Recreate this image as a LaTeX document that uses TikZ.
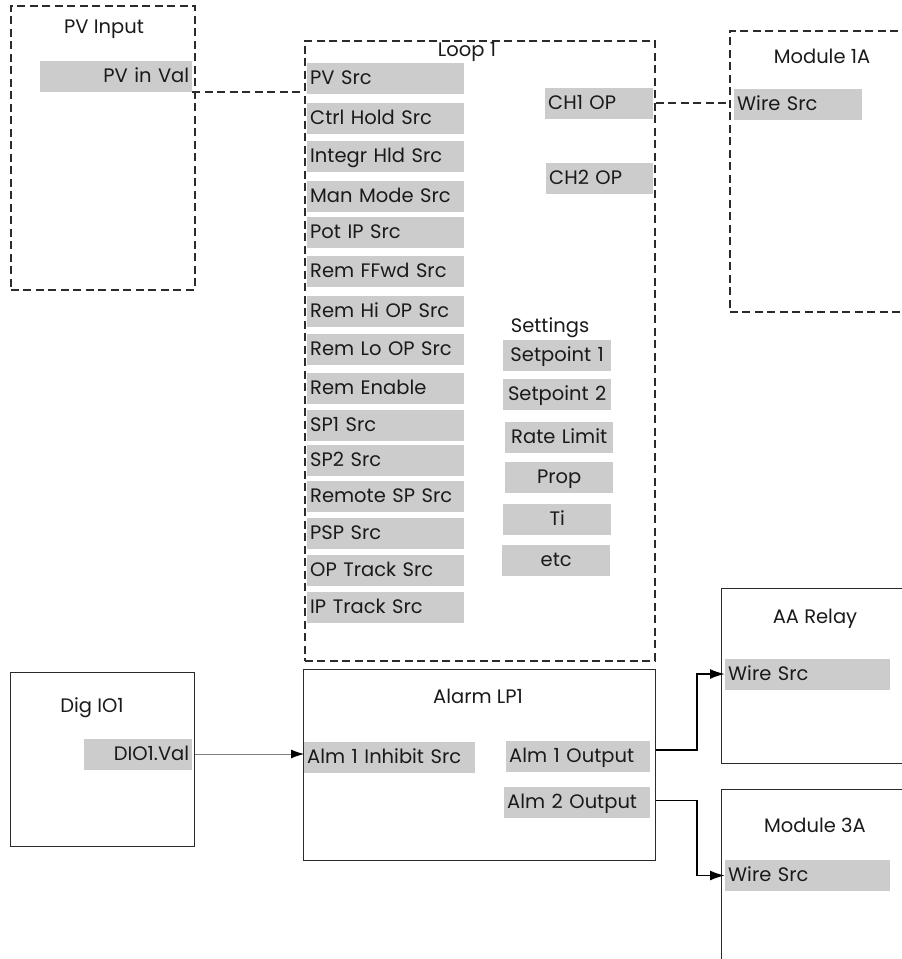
\documentclass[tikz,border=0pt]{standalone}
\usepackage{fontspec}
\setmainfont{Poppins}
\usepackage{xcolor}
\usetikzlibrary{arrows.meta,positioning}
\definecolor{barfill}{HTML}{CCCCCC}
\definecolor{linegray}{HTML}{2B2B2B}
\definecolor{txtgray}{HTML}{1A1A1A}
\newcommand{\lbl}{\fontsize{19.5}{21}\selectfont}

\begin{document}
\begin{tikzpicture}[x=1pt, y=-1pt,
      dbox/.style={draw=linegray, line width=1.5pt, dash pattern=on 8pt off 4.5pt,
                   anchor=north west, inner sep=0pt},
      sbox/.style={draw=linegray, line width=1.1pt, anchor=north west, inner sep=0pt},
      ttl/.style={font=\lbl, text=txtgray, anchor=base, inner sep=0pt},
      field/.style={fill=barfill, text=txtgray, font=\lbl, anchor=west,
                    minimum height=31pt, inner xsep=3pt, inner ysep=0pt,
                    text height=14pt, text depth=2pt, text width=#1, align=left},
      rfield/.style={field=#1, align=right},
      cfield/.style={field=#1, align=center},
      wire/.style={draw=linegray, line width=1.5pt, dash pattern=on 8pt off 4.5pt},
      sigarr/.style={draw=gray, line width=0.9pt, -{Latex[black, length=13pt, width=9pt]}},
      outarr/.style={draw=black, line width=1.8pt, -{Latex[length=15pt, width=10pt]}}
  ]
    \useasboundingbox (0,0) rectangle (902,959);
    \clip (0,0) rectangle (902,959);

    % PV input block
    \node[dbox, minimum width=184pt, minimum height=284pt] (pvin) at (10,5) {};
    \node[ttl] (pvinT) at (104,33) {PV Input};
    \node[rfield=146pt] (pvval) at (40,76.5) {PV in Val};

    % loop block
    \node[dbox, minimum width=350pt, minimum height=620pt] (loop) at (304,40) {};
    \node[ttl] (loopT) at (467,56) {Loop 1};
    \node[field=151pt] (pvsrc)   at (307,78)    {PV Src};
    \node[field=151pt] (ctrlh)   at (307,118)   {Ctrl Hold Src};
    \node[field=151pt] (integr)  at (307,156.5) {Integr Hld Src};
    \node[field=151pt] (manmode) at (307,196)   {Man Mode Src};
    \node[field=151pt] (potip)   at (307,232.5) {Pot IP Src};
    \node[field=151pt] (ffwd)    at (307,271)   {Rem FFwd Src};
    \node[field=151pt] (remhi)   at (307,311)   {Rem Hi OP Src};
    \node[field=151pt] (remlo)   at (307,349)   {Rem Lo OP Src};
    \node[field=151pt] (remen)   at (307,388)   {Rem Enable};
    \node[field=151pt] (sp1)     at (307,425)   {SP1 Src};
    \node[field=151pt] (sp2)     at (307,460)   {SP2 Src};
    \node[field=151pt] (remsp)   at (307,496)   {Remote SP Src};
    \node[field=151pt] (psp)     at (307,533)   {PSP Src};
    \node[field=151pt] (optrk)   at (307,570)   {OP Track Src};
    \node[field=151pt] (iptrk)   at (307,607)   {IP Track Src};
    \node[field=102pt] (ch1) at (545,103) {CH1 OP};
    \node[field=101pt] (ch2) at (546,178) {CH2 OP};
    \node[ttl] (setT) at (550,332) {Settings};
    \node[cfield=102pt] (setp1) at (503,355)   {Setpoint 1};
    \node[cfield=102pt] (setp2) at (503,394)   {Setpoint 2};
    \node[cfield=102pt] (rate)  at (505,437.5) {Rate Limit};
    \node[cfield=102pt] (prop)  at (505,477)   {Prop};
    \node[cfield=102pt] (ti)    at (503,519)   {Ti};
    \node[cfield=102pt] (etc)   at (502,560)   {etc};

    % module 1A
    \node[dbox, minimum width=200pt, minimum height=281pt] (mod1a) at (729,30) {};
    \node[ttl] (mod1aT) at (822,63) {Module 1A};
    \node[field=122pt] (m1wire) at (734,104.5) {Wire Src};

    % digital input
    \node[sbox, minimum width=184pt, minimum height=174pt] (dig) at (10,672) {};
    \node[ttl] (digT) at (92,712) {Dig IO1};
    \node[rfield=102pt] (dioval) at (84,754) {DIO1.Val};

    % alarm block
    \node[sbox, minimum width=352pt, minimum height=191pt] (alarm) at (303,669) {};
    \node[ttl] (alarmT) at (478,703) {Alarm LP1};
    \node[field=165pt] (inhib) at (304,757) {Alm 1 Inhibit Src};
    \node[field=138pt] (alm1) at (506,756)   {Alm 1 Output};
    \node[field=140pt] (alm2) at (504,802.5) {Alm 2 Output};

    % relay and module 3A
    \node[sbox, minimum width=200pt, minimum height=175pt] (relay) at (721,588) {};
    \node[ttl] (relayT) at (815,623) {AA Relay};
    \node[field=159pt] (rwire) at (725,674) {Wire Src};
    \node[sbox, minimum width=200pt, minimum height=200pt] (mod3a) at (721,789) {};
    \node[ttl] (mod3aT) at (815,832) {Module 3A};
    \node[field=159pt] (m3wire) at (725,875.5) {Wire Src};

    % connections
    \draw[wire] (pvval.south east) -- (pvval.south east -| loop.west);
    \draw[wire] (ch1.east -| loop.east) -- (ch1.east -| mod1a.west);
    \draw[sigarr] (dioval.east -| dig.east) -- (dioval.east -| inhib.west);
    \draw[outarr] ([yshift=6pt]alm1.east -| alarm.east) -- ++(41,0) |- (rwire.west);
    \draw[outarr] ([yshift=2pt]alm2.east -| alarm.east) -- ++(41,0) |- (m3wire.west);
  \end{tikzpicture}
\end{document}
